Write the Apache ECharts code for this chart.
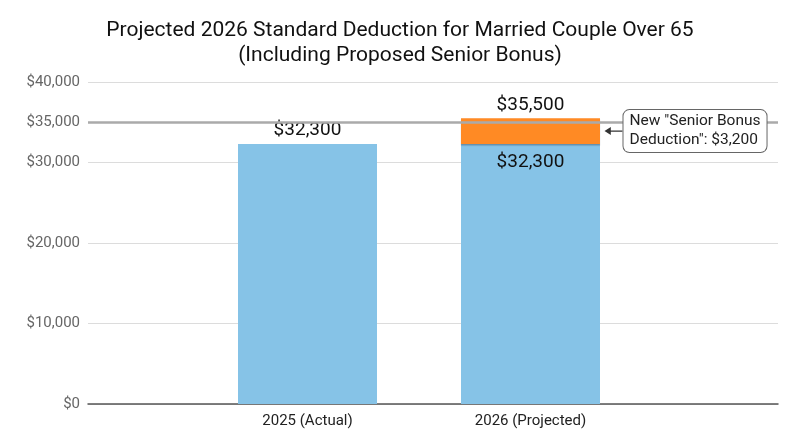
<!DOCTYPE html>
<html>
<head>
<meta charset="utf-8">
<script src="https://cdn.jsdelivr.net/npm/echarts@6/dist/echarts.min.js"></script>
<style>html,body{margin:0;padding:0;background:#fff}#c{width:800px;height:447px}</style>
</head>
<body>
<div id="c"></div>
<script>
const categories = ['2025 (Actual)', '2026 (Projected)'];
const baseDeduction = [32300, 32300];
const seniorBonus = ['-', 3200];
const yMin = 0, yMax = 40000, yInterval = 10000;
const highlightValue = 35000;
const annotationText = 'New "Senior Bonus\nDeduction": $3,200';
const annotationY = 33900;

const fmt = v => '$' + Number(v).toLocaleString('en-US');
const FONT = 'Roboto';

const chart = echarts.init(document.getElementById('c'));
chart.setOption({
  animation: false,
  backgroundColor: '#fff',
  title: {
    text: 'Projected 2026 Standard Deduction for Married Couple Over 65\n(Including Proposed Senior Bonus)',
    left: 'center', top: 13,
    textStyle: { fontFamily: FONT, fontSize: 21, fontWeight: 'normal', color: '#111', lineHeight: 25 }
  },
  grid: [
    { left: 88, right: 22, top: 82, bottom: 43 },
    { left: 196, right: 158, top: 82, bottom: 43 }
  ],
  xAxis: [
    { type: 'value', gridIndex: 0, min: 0, max: 1, show: true,
      axisLine: { show: true, onZero: false, lineStyle: { color: '#555', width: 1.5 } },
      axisTick: { show: false }, axisLabel: { show: false }, splitLine: { show: false } },
    { type: 'category', gridIndex: 1, data: categories,
      axisLine: { show: false }, axisTick: { show: false },
      axisLabel: { fontFamily: FONT, fontSize: 15, color: '#222', margin: 10 } }
  ],
  yAxis: [
    { type: 'value', gridIndex: 0, min: yMin, max: yMax, interval: yInterval,
      axisLine: { show: false }, axisTick: { show: false },
      axisLabel: { fontFamily: FONT, fontSize: 15, color: '#666', margin: 8, formatter: fmt },
      splitLine: { show: true, lineStyle: { color: '#dcdcdc', width: 1 } } },
    { type: 'value', gridIndex: 1, min: yMin, max: yMax, show: false, splitLine: { show: false } }
  ],
  series: [
    { type: 'scatter', xAxisIndex: 0, yAxisIndex: 0, data: [[0, 0]], symbolSize: 0, z: 1, silent: true,
      markLine: {
        silent: true, symbol: 'none',
        lineStyle: { color: '#aaaaaa', width: 2.5, type: 'solid' },
        label: { show: true, position: 'start', distance: 8, formatter: () => fmt(highlightValue),
          fontFamily: FONT, fontSize: 15, color: '#666' },
        data: [{ yAxis: highlightValue }]
      } },
    { type: 'bar', name: 'Base', xAxisIndex: 1, yAxisIndex: 1, stack: 'total', barWidth: 139, z: 3,
      data: baseDeduction.map((v, i) => ({
        value: v,
        label: i === 1 ? { position: 'insideTop', distance: 9 } : { position: 'top', distance: 4 }
      })),
      itemStyle: { color: '#86C3E7' },
      label: { show: true, fontFamily: FONT, fontSize: 19, color: '#111', formatter: p => fmt(p.value) } },
    { type: 'bar', name: 'Senior Bonus', xAxisIndex: 1, yAxisIndex: 1, stack: 'total', barWidth: 139, z: 3,
      data: seniorBonus,
      itemStyle: { color: '#FF8A24', shadowColor: 'rgba(60,80,100,0.45)', shadowBlur: 1, shadowOffsetY: 1.5 },
      label: { show: true, position: 'top', distance: 3, fontFamily: FONT, fontSize: 19, color: '#111',
        formatter: p => fmt(baseDeduction[p.dataIndex] + p.value) },
      markPoint: {
        silent: true,
        symbol: 'path://M0,5 L7,0.5 L7,4.3 L20,4.3 L20,5.7 L7,5.7 L7,9.5 Z',
        symbolSize: [18, 8],
        symbolOffset: [83, 0],
        itemStyle: { color: '#333' },
        label: { show: true, position: 'right', distance: 1,
          formatter: () => annotationText,
          fontFamily: FONT, fontSize: 15.5, lineHeight: 19, color: '#222',
          backgroundColor: '#fff', borderColor: '#666', borderWidth: 1, borderRadius: 6,
          padding: [2, 6, 2, 6] },
        data: [{ coord: [categories[1], annotationY] }]
      } }
  ]
});
</script>
</body>
</html>
